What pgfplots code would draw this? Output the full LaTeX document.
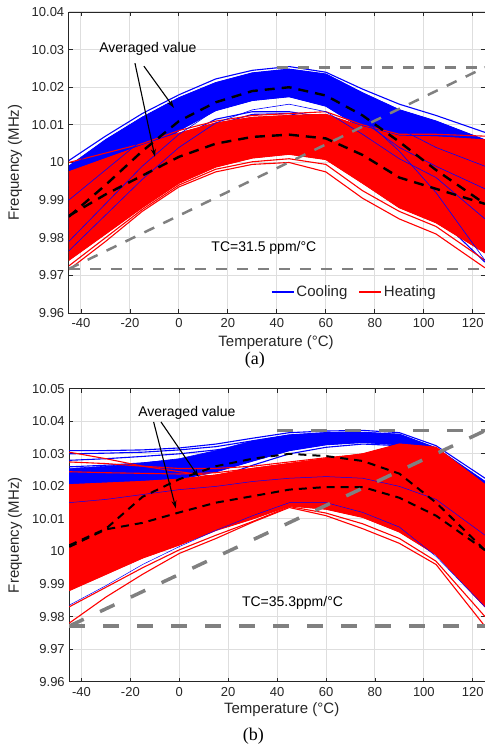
\documentclass[border=0pt]{standalone}
\usepackage{fontspec}
\setmainfont{Liberation Sans}
\newfontfamily\timesfont{Liberation Serif}
\usepackage{pgfplots}
\usepackage{pgfplotstable}
\pgfplotsset{compat=1.18}
\usetikzlibrary{arrows.meta,calc}

\definecolor{mblue}{RGB}{0,0,255}
\definecolor{mred}{RGB}{255,0,0}
\definecolor{refgray}{RGB}{128,128,128}
\definecolor{axgray}{RGB}{38,38,38}

% ---------- panel (a): cooling curves, drawn first
\pgfplotstableread{
T    b1      b2      b3      b4      b5      b6      b7      b8      b9      b10     b11
-45  10.0005 9.9990  9.9960  9.9930  9.9900  9.9870  9.9840  9.9810  9.9790  9.9770  9.9760
-30  10.0070 10.0060 10.0040 10.0015 9.9990  9.9960  9.9930  9.9905  9.9880  9.9860  9.9850
-15  10.0130 10.0120 10.0105 10.0090 10.0070 10.0045 10.0025 10.0005 9.9985  9.9965  9.9950
0    10.0180 10.0172 10.0160 10.0145 10.0130 10.0115 10.0100 10.0085 10.0065 10.0045 10.0030
15   10.0222 10.0212 10.0200 10.0185 10.0172 10.0160 10.0150 10.0138 10.0115 10.0100 10.0085
30   10.0245 10.0238 10.0225 10.0210 10.0198 10.0185 10.0175 10.0165 10.0135 10.0128 10.0115
45   10.0255 10.0248 10.0235 10.0220 10.0207 10.0195 10.0185 10.0175 10.0135 10.0130 10.0120
60   10.0240 10.0235 10.0222 10.0205 10.0190 10.0175 10.0162 10.0150 10.0120 10.0110 10.0100
75   10.0195 10.0185 10.0170 10.0150 10.0135 10.0120 10.0105 10.0090 10.0070 10.0050 10.0040
90   10.0155 10.0140 10.0120 10.0095 10.0075 10.0055 10.0035 10.0015 9.9990  9.9970  9.9960
105  10.0125 10.0110 10.0085 10.0055 10.0020 9.9995  9.9970  9.9945 9.9910  9.9880  9.9860
125  10.0080 10.0060 10.0030 9.9995  9.9960  9.9920  9.9880  9.9840  9.9800  9.9760  9.9735
}\blueA

% dense core of the cooling bundle (outline: upper edge, then lower edge back)
\pgfplotstableread{
T    f
-45  9.9990
-30  10.0060
-15  10.0120
0    10.0172
15   10.0212
30   10.0238
45   10.0248
60   10.0235
75   10.0185
90   10.0140
105  10.0110
125  10.0060
125  9.9840
105  9.9945
90   10.0015
75   10.0090
60   10.0150
45   10.0175
30   10.0165
15   10.0138
0    10.0085
-15  10.0005
-30  9.9905
-45  9.9810
}\blueAcore

% panel (a): heating curves
\pgfplotstableread{
T    r1      r2      r3      r4      r5      r6      r7      r8      r9      r10     r11     r12
-45  10.0000 9.9975  9.9940  9.9910  9.9880  9.9850  9.9820  9.9790  9.9760  9.9740  9.9725  9.9715
-30  10.0025 10.0010 9.9985  9.9960  9.9935  9.9905  9.9880  9.9855  9.9830  9.9810  9.9800  9.9790
-15  10.0050 10.0045 10.0025 10.0005 9.9985  9.9960  9.9940  9.9918  9.9898  9.9880  9.9875  9.9870
0    10.0085 10.0078 10.0065 10.0048 10.0030 10.0010 9.9992  9.9972  9.9955  9.9945  9.9940  9.9935
15   10.0110 10.0105 10.0095 10.0080 10.0065 10.0048 10.0030 10.0012 9.9998  9.9988  9.9982  9.9975
30   10.0125 10.0120 10.0112 10.0098 10.0085 10.0068 10.0052 10.0036 10.0022 10.0012 10.0002 9.9995
45   10.0130 10.0125 10.0118 10.0105 10.0092 10.0075 10.0060 10.0045 10.0030 10.0022 10.0010 10.0000
60   10.0135 10.0128 10.0115 10.0098 10.0082 10.0065 10.0048 10.0032 10.0018 10.0008 9.9995  9.9975
75   10.0100 10.0095 10.0080 10.0060 10.0040 10.0020 10.0000 9.9980  9.9960  9.9945  9.9925  9.9905
90   10.0075 10.0070 10.0050 10.0020 9.9990  9.9965  9.9940  9.9918  9.9895  9.9880  9.9870  9.9850
105  10.0075 10.0068 10.0040 10.0005 9.9970  9.9935  9.9905  9.9880  9.9855  9.9840  9.9830  9.9810
125  10.0070 10.0060 10.0030 9.9995  9.9950  9.9905  9.9860  9.9820  9.9785  9.9760  9.9740  9.9720
}\redA

\pgfplotstableread{
T    f
-45  9.9975
-30  10.0010
-15  10.0045
0    10.0078
15   10.0105
30   10.0120
45   10.0125
60   10.0128
75   10.0095
90   10.0070
105  10.0068
125  10.0060
125  9.9760
105  9.9840
90   9.9880
75   9.9945
60   10.0008
45   10.0022
30   10.0012
15   9.9988
0    9.9945
-15  9.9880
-30  9.9810
-45  9.9740
}\redAcore

% panel (a): cooling curves that lie over the heating ones
\pgfplotstableread{
T    c1      c2      c3      c4
-45  9.9980  9.9790  9.9765  9.9900
-30  10.0060 9.9890  9.9860  9.9980
-15  10.0120 9.9990  9.9955  10.0060
0    10.0170 10.0075 10.0040 10.0125
15   10.0210 10.0140 10.0105 10.0175
30   10.0232 10.0175 10.0140 10.0200
45   10.0240 10.0190 10.0155 10.0205
60   10.0220 10.0170 10.0135 10.0185
75   10.0160 10.0110 10.0075 10.0120
90   10.0090 10.0040 10.0010 10.0030
105  10.0040 9.9990  9.9960  9.9920
125  9.9990  9.9930  9.9850  9.9740
}\blueAtop

% ---------- panel (b)
\pgfplotstableread{
T    b1      b2      b3      b4      b5      b6      b7      b8
-45  10.0310 10.0300 10.0280 10.0260 10.0250 10.0225 10.0205 10.0195
-30  10.0310 10.0302 10.0285 10.0265 10.0255 10.0230 10.0210 10.0200
-15  10.0312 10.0305 10.0292 10.0272 10.0260 10.0235 10.0215 10.0205
0    10.0318 10.0312 10.0300 10.0282 10.0268 10.0245 10.0222 10.0210
15   10.0330 10.0322 10.0312 10.0298 10.0285 10.0265 10.0245 10.0225
30   10.0348 10.0340 10.0330 10.0318 10.0305 10.0292 10.0278 10.0265
45   10.0365 10.0358 10.0350 10.0340 10.0330 10.0320 10.0310 10.0300
60   10.0370 10.0365 10.0358 10.0350 10.0342 10.0335 10.0328 10.0320
75   10.0372 10.0366 10.0360 10.0352 10.0345 10.0340 10.0335 10.0330
90   10.0365 10.0360 10.0352 10.0345 10.0338 10.0332 10.0328 10.0325
105  10.0325 10.0318 10.0310 10.0302 10.0295 10.0290 10.0285 10.0280
125  10.0225 10.0215 10.0200 10.0185 10.0170 10.0150 10.0130 10.0110
}\blueB

\pgfplotstableread{
T    f
-45  10.0255
-30  10.0262
-15  10.0272
0    10.0285
15   10.0310
30   10.0340
45   10.0358
60   10.0365
75   10.0366
90   10.0360
105  10.0318
125  10.0215
125  10.0130
105  10.0285
90   10.0328
75   10.0335
60   10.0328
45   10.0310
30   10.0278
15   10.0245
0    10.0222
-15  10.0215
-30  10.0210
-45  10.0205
}\blueBcore

\pgfplotstableread{
T    r1      r2      r3      r4      r5      r6      r7      r8      r9      r10     r11     r12     r13
-45  10.0305 10.0275 10.0245 10.0205 10.0180 10.0150 10.0110 10.0060 10.0000 9.9950  9.9880  9.9830  9.9780
-30  10.0285 10.0270 10.0242 10.0210 10.0190 10.0162 10.0125 10.0080 10.0030 9.9990  9.9930  9.9890  9.9860
-15  10.0262 10.0262 10.0240 10.0215 10.0198 10.0172 10.0140 10.0100 10.0060 10.0030 9.9980  9.9950  9.9930
0    10.0245 10.0255 10.0238 10.0222 10.0208 10.0185 10.0155 10.0118 10.0085 10.0060 10.0020 10.0005 9.9994
15   10.0230 10.0255 10.0242 10.0235 10.0222 10.0200 10.0172 10.0140 10.0110 10.0090 10.0065 10.0050 10.0040
30   10.0222 10.0262 10.0255 10.0255 10.0240 10.0218 10.0190 10.0160 10.0135 10.0118 10.0100 10.0092 10.0090
45   10.0235 10.0275 10.0270 10.0270 10.0255 10.0232 10.0205 10.0178 10.0155 10.0145 10.0140 10.0138 10.0135
60   10.0260 10.0288 10.0285 10.0285 10.0270 10.0245 10.0215 10.0185 10.0160 10.0145 10.0130 10.0118 10.0110
75   10.0280 10.0298 10.0295 10.0300 10.0285 10.0255 10.0220 10.0185 10.0155 10.0130 10.0105 10.0085 10.0070
90   10.0300 10.0320 10.0318 10.0330 10.0305 10.0265 10.0215 10.0170 10.0130 10.0100 10.0060 10.0040 10.0025
105  10.0290 10.0312 10.0312 10.0320 10.0295 10.0245 10.0180 10.0120 10.0070 10.0030 9.9990  9.9970  9.9960
125  10.0190 10.0205 10.0200 10.0205 10.0170 10.0120 10.0060 10.0000 9.9940  9.9890  9.9830  9.9800  9.9770
}\redB

\pgfplotstableread{
T    f
-45  10.0205
-30  10.0210
-15  10.0215
0    10.0222
15   10.0235
30   10.0255
45   10.0270
60   10.0285
75   10.0300
90   10.0330
105  10.0320
125  10.0205
125  9.9830
105  9.9990
90   10.0060
75   10.0105
60   10.0130
45   10.0140
30   10.0100
15   10.0065
0    10.0020
-15  9.9980
-30  9.9930
-45  9.9880
}\redBcore

\pgfplotstableread{
T    c1      c2
-45  9.9835  10.0150
-30  9.9895  10.0160
-15  9.9960  10.0175
0    10.0015 10.0190
15   10.0065 10.0200
30   10.0110 10.0215
45   10.0150 10.0225
60   10.0150 10.0230
75   10.0120 10.0225
90   10.0075 10.0200
105  9.9985  10.0160
125  9.9830  10.0050
}\blueBtop

\pgfplotsset{
  layers/matlab/.define layer set={axis background,axis grid,pre main,main,axis ticks,axis lines,axis tick labels,axis descriptions,axis foreground}{},
  freqaxis/.style={
    set layers=matlab,
    scale only axis,
    clip mode=individual,
    xmin=-45, xmax=125,
    xtick={-40,-20,0,20,40,60,80,100,120},
    xticklabels={-40,-20,0,20,40,60,80,100,120},
    tick align=inside,
    major tick length=4bp,
    grid=major,
    major grid style={line width=1bp, black!13},
    axis line style={line width=0.9bp, axgray},
    tick style={line width=0.9bp, axgray},
    ticklabel style={font=\fontsize{13bp}{15bp}\selectfont, text=axgray},
    xticklabel style={yshift=-2bp},
    yticklabel style={xshift=-1bp},
    label style={font=\fontsize{15bp}{17bp}\selectfont, text=axgray},
  },
  bluecurve/.style={mblue, line width=1.1bp, forget plot},
  redcurve/.style={mred, line width=1.1bp, forget plot},
  corefill/.style={fill=#1, draw=#1, line width=0.6bp, forget plot},
}

\begin{document}
\begin{tikzpicture}
% ================= (a)
\begin{axis}[
  freqaxis, name=A,
  at={(0,0)}, anchor=south west,
  width=416.25bp, height=301bp,
  ymin=9.96, ymax=10.04,
  ytick={9.96,9.97,9.98,9.99,10,10.01,10.02,10.03,10.04},
  yticklabels={9.96,9.97,9.98,9.99,10,10.01,10.02,10.03,10.04},
  xlabel={Temperature (°C)},
  ylabel={Frequency (MHz)},
  xlabel style={at={(axis description cs:0.498,-0.100)}, anchor=center},
  ylabel style={at={(axis description cs:-0.129,0.5)}, anchor=center},
  legend image code/.code={\draw[#1] (0bp,0bp) -- (22bp,0bp);},
  legend style={draw=none, fill=none, at={(axis description cs:0.478,0.07)}, anchor=west,
    legend columns=2, font=\fontsize{15bp}{17bp}\selectfont, text=axgray,
    /tikz/every even column/.append style={column sep=9bp}},
  legend cell align=left,
]
\addplot[corefill=mblue] table[x=T,y=f]{\blueAcore};
\pgfplotsinvokeforeach{b1,b2,b3,b4,b5,b6,b7,b8,b9,b10,b11}{
  \addplot[bluecurve] table[x=T,y=#1]{\blueA};
}
\addplot[corefill=mred] table[x=T,y=f]{\redAcore};
\pgfplotsinvokeforeach{r1,r2,r3,r4,r5,r6,r7,r8,r9,r10,r11,r12}{
  \addplot[redcurve] table[x=T,y=#1]{\redA};
}
\pgfplotsinvokeforeach{c1,c2,c3,c4}{
  \addplot[mblue, line width=0.6bp, forget plot] table[x=T,y=#1]{\blueAtop};
}
% averaged values
\addplot[black, line width=2.4bp, dash pattern=on 10bp off 7bp, forget plot] coordinates {
  (-45,9.9856) (-30,9.9940) (-15,10.0030) (0,10.0110) (15,10.0160) (30,10.0190)
  (45,10.0200) (60,10.0178) (75,10.0125) (90,10.0055) (105,9.9980) (125,9.9890)};
\addplot[black, line width=2.4bp, dash pattern=on 10bp off 7bp, forget plot] coordinates {
  (-45,9.9858) (-30,9.9915) (-15,9.9965) (0,10.0015) (15,10.0050) (30,10.0068)
  (45,10.0074) (60,10.0064) (75,10.0020) (90,9.9960) (105,9.9930) (125,9.9890)};
% TC box lines
\addplot[refgray, line width=2.5bp, dash pattern=on 11bp off 10bp, forget plot] coordinates {(-45,9.9717) (125,9.9717)};
\addplot[refgray, line width=2.5bp, dash pattern=on 11bp off 10bp, forget plot] coordinates {(40,10.0253) (125,10.0253)};
\addplot[refgray, line width=2.5bp, dash pattern=on 11bp off 10bp, forget plot] coordinates {(-45,9.9717) (125,10.0253)};
\addlegendimage{mblue, line width=1.6bp}
\addlegendentry{Cooling}
\addlegendimage{mred, line width=1.6bp}
\addlegendentry{Heating}
\node[font=\fontsize{14bp}{16bp}\selectfont] at (axis cs:-12.7,10.0302) {Averaged value};
\draw[-{Stealth[length=8bp,width=5bp]}, line width=1.1bp] (axis cs:-17.96,10.0264) -- (axis cs:-9.8,10.0015);
\draw[-{Stealth[length=8bp,width=5bp]}, line width=1.1bp] (axis cs:-14.3,10.0256) -- (axis cs:-2.0,10.0145);
\node[font=\fontsize{14bp}{16bp}\selectfont] at (axis cs:34.7,9.9774) {TC=31.5 ppm/°C};
\node[font=\timesfont\fontsize{18bp}{20bp}\selectfont] at (axis description cs:0.447,-0.157) {(a)};
\end{axis}

% ================= (b)
\begin{axis}[
  freqaxis, name=B,
  at={(0.5bp,-368.7bp)}, anchor=south west,
  width=415.75bp, height=293bp,
  ymin=9.96, ymax=10.05,
  ytick={9.96,9.97,9.98,9.99,10,10.01,10.02,10.03,10.04,10.05},
  yticklabels={9.96,9.97,9.98,9.99,10,10.01,10.02,10.03,10.04,10.05},
  xlabel={Temperature (°C)},
  ylabel={Frequency (MHz)},
  xlabel style={at={(axis description cs:0.511,-0.0966)}, anchor=center},
  ylabel style={at={(axis description cs:-0.1306,0.5)}, anchor=center},
]
\addplot[corefill=mblue] table[x=T,y=f]{\blueBcore};
\pgfplotsinvokeforeach{b1,b2,b3,b4,b5,b6,b7,b8}{
  \addplot[bluecurve] table[x=T,y=#1]{\blueB};
}
\addplot[corefill=mred] table[x=T,y=f]{\redBcore};
\pgfplotsinvokeforeach{r1,r2,r3,r4,r5,r6,r7,r8,r9,r10,r11,r12,r13}{
  \addplot[redcurve] table[x=T,y=#1]{\redB};
}
\pgfplotsinvokeforeach{c1,c2}{
  \addplot[mblue, line width=0.5bp, forget plot] table[x=T,y=#1]{\blueBtop};
}
% averaged values
\addplot[black, line width=2bp, dash pattern=on 8bp off 6bp, forget plot] coordinates {
  (-45,10.0019) (-30,10.0070) (-15,10.0168) (0,10.0222) (15,10.0262) (30,10.0285)
  (45,10.0300) (60,10.0293) (75,10.0278) (90,10.0239) (105,10.0150) (125,10.0004)};
\addplot[black, line width=2bp, dash pattern=on 8bp off 6bp, forget plot] coordinates {
  (-45,10.0014) (-30,10.0068) (-15,10.0088) (0,10.0120) (15,10.0150) (30,10.0170)
  (45,10.0190) (60,10.0198) (75,10.0198) (90,10.0165) (105,10.0110) (125,10.0004)};
% TC box lines
\addplot[refgray, line width=3.5bp, dash pattern=on 16bp off 18bp, forget plot] coordinates {(-45,9.9771) (125,9.9771)};
\addplot[refgray, line width=3.5bp, dash pattern=on 16bp off 18bp, forget plot] coordinates {(40,10.0371) (125,10.0371)};
\addplot[refgray, line width=3.5bp, dash pattern=on 16bp off 18bp, forget plot] coordinates {(-45,9.9771) (125,10.0371)};
\node[font=\fontsize{14bp}{16bp}\selectfont] at (axis cs:3.1,10.0425) {Averaged value};
\draw[-{Stealth[length=8bp,width=5bp]}, line width=1.1bp] (axis cs:-10.5,10.0398) -- (axis cs:-1.4,10.0132);
\draw[-{Stealth[length=8bp,width=5bp]}, line width=1.1bp] (axis cs:-7.5,10.0398) -- (axis cs:7.9,10.0229);
\node[font=\fontsize{14bp}{16bp}\selectfont] at (axis cs:46.3,9.9843) {TC=35.3ppm/°C};
\node[font=\timesfont\fontsize{18bp}{20bp}\selectfont] at (axis description cs:0.443,-0.186) {(b)};
\end{axis}

\pgfresetboundingbox
\path[use as bounding box] ($(A.south west)+(-68.75bp,-435bp)$) rectangle ($(A.south west)+(416.25bp,313bp)$);
\end{tikzpicture}
\end{document}
